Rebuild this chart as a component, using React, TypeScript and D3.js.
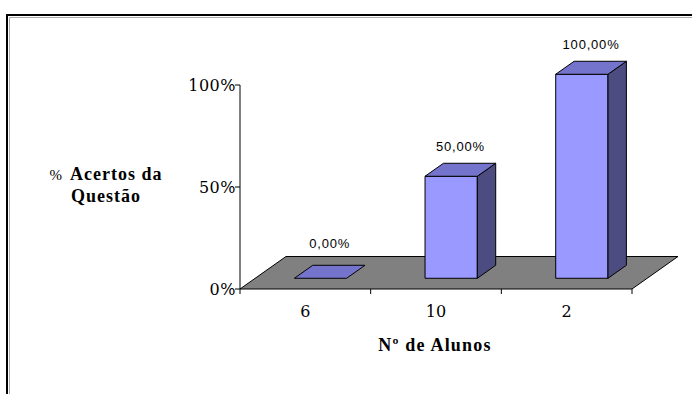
import React from "react";
import * as d3 from "d3";

// data
const categories = ["6", "10", "2"];
const values = [0, 0.5, 1];
const valueLabels = ["0,00%", "50,00%", "100,00%"];
const yTicks = [0, 0.5, 1];
const yTickLabels = ["0%", "50%", "100%"];

const W = 692, H = 394;
// 3d floor depth offset
const DX = 46, DY = -32.5;
const F0 = 0.33, F1 = 0.73;

const serif = "'DejaVu Serif', 'Liberation Serif', serif";
const boldSerif = "'Liberation Serif', 'Times New Roman', serif";
const sans = "'Liberation Sans', Arial, sans-serif";

export default function App() {
  const xSlot = d3.scaleBand<string>().domain(categories).range([240, 632]).padding(0);
  const y = d3.scaleLinear().domain([0, 1]).range([289, 85]);
  const barW = xSlot.bandwidth() * 0.4;

  const proj = (x: number, v: number, f: number) => [x + f * DX, y(v) + f * DY];
  const pts = (arr: number[][]) => arr.map(p => p.join(",")).join(" ");

  const [x0, x1] = xSlot.range();
  const floor = [proj(x0, 0, 0), proj(x1, 0, 0), proj(x1, 0, 1), proj(x0, 0, 1)];
  const slotEdges = [...categories.map(c => xSlot(c)!), x1];

  return (
    <svg width={W} height={H} style={{ position: "absolute", left: 0, top: 0, background: "#fff" }}>
      {/* frame */}
      <rect x={7} y={15} width={720} height={420} fill="none" stroke="#000" strokeWidth={2} />
      <path d="M9.5,440 V17.5 H720" fill="none" stroke="#aaa" strokeWidth={1} />

      {/* floor */}
      <polygon points={pts(floor)} fill="#808080" stroke="#000" strokeWidth={1} />

      {/* bars */}
      {categories.map((c, i) => {
        const xl = xSlot(c)! + (xSlot.bandwidth() - barW) / 2;
        const xr = xl + barW;
        const v = values[i];
        const front = [proj(xl, v, F0), proj(xr, v, F0), proj(xr, 0, F0), proj(xl, 0, F0)];
        const top = [proj(xl, v, F0), proj(xr, v, F0), proj(xr, v, F1), proj(xl, v, F1)];
        const side = [proj(xr, v, F0), proj(xr, v, F1), proj(xr, 0, F1), proj(xr, 0, F0)];
        const mid = proj(xl + barW / 2, v, (F0 + F1) / 2);
        return (
          <g key={c}>
            {v > 0 && <polygon points={pts(front)} fill="#9999ff" stroke="#000" strokeWidth={1} />}
            {v > 0 && <polygon points={pts(side)} fill="#4c4c80" stroke="#000" strokeWidth={1} />}
            <polygon points={pts(top)} fill="#7474cc" stroke="#000" strokeWidth={1} />
            <text x={mid[0]} y={mid[1] - (v > 0 ? 19 : 24)} textAnchor="middle" fontFamily={sans}
              fontSize={13} letterSpacing={0.8} fill="#000">{valueLabels[i]}</text>
          </g>
        );
      })}

      {/* y axis */}
      <line x1={240} x2={240} y1={y(1)} y2={y(0)} stroke="#000" />
      {yTicks.map((t, i) => (
        <g key={t}>
          <line x1={235} x2={240} y1={y(t)} y2={y(t)} stroke="#000" />
          <text x={236} y={y(t) + 5.5} textAnchor="end" fontFamily={serif} fontSize={16}
            letterSpacing={0.5} fill="#000">{yTickLabels[i]}</text>
        </g>
      ))}

      {/* x axis ticks and labels */}
      {slotEdges.map((e, i) => (
        <line key={i} x1={e} x2={e} y1={y(0)} y2={y(0) + 5} stroke="#000" />
      ))}
      {categories.map(c => (
        <text key={c} x={xSlot(c)! + xSlot.bandwidth() / 2} y={317} textAnchor="middle"
          fontFamily={serif} fontSize={16} fill="#000">{c}</text>
      ))}

      {/* titles */}
      <text x={435} y={351} textAnchor="middle" fontFamily={boldSerif} fontSize={18}
        fontWeight="bold" letterSpacing={1.2} fill="#000">Nº de Alunos</text>
      <text x={106} y={180} textAnchor="middle" fontFamily={boldSerif} fontSize={18}
        letterSpacing={1} fill="#000">
        <tspan fontWeight="normal" fontSize={15}>%</tspan>
        <tspan fontWeight="bold" dx={7}>Acertos da</tspan>
      </text>
      <text x={106} y={202} textAnchor="middle" fontFamily={boldSerif} fontSize={18}
        fontWeight="bold" letterSpacing={1} fill="#000">Questão</text>
    </svg>
  );
}
